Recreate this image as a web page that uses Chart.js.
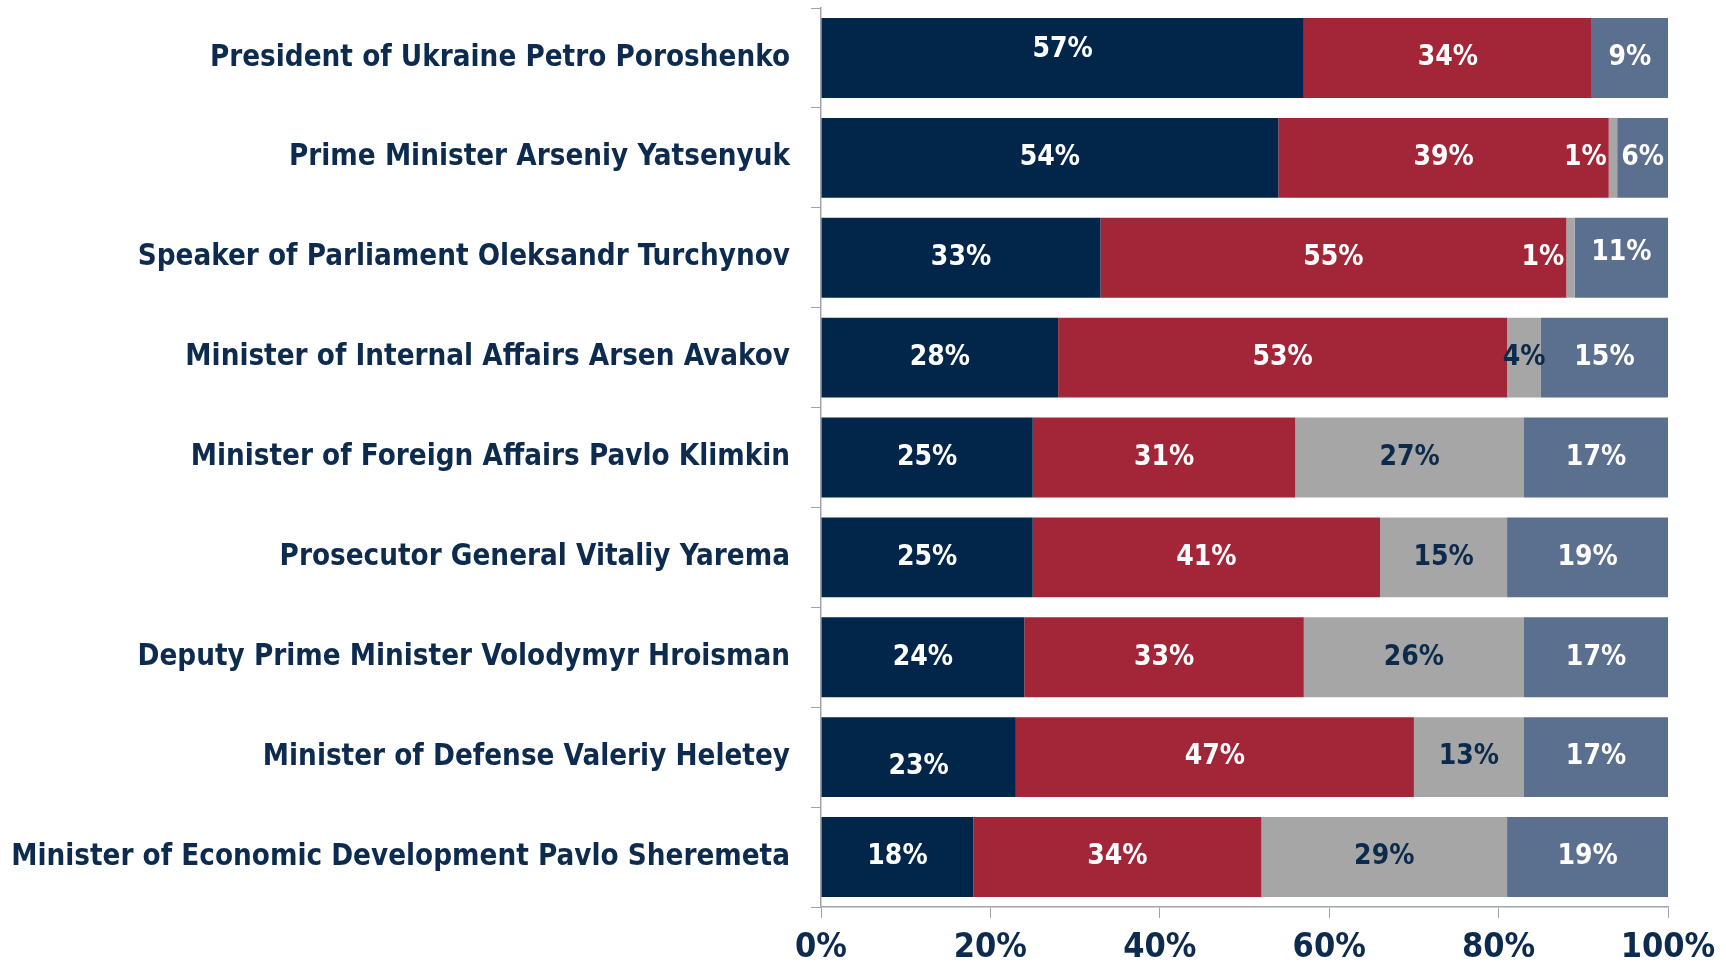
<!DOCTYPE html>
<html>
<head>
<meta charset="utf-8">
<script src="https://cdn.jsdelivr.net/npm/chart.js@4.4.1/dist/chart.umd.min.js"></script>
<style>
  html, body { margin: 0; padding: 0; background: #ffffff; }
  #wrap { width: 1726px; height: 962px; }
</style>
</head>
<body>
<div id="wrap"><canvas id="c" width="1726" height="962"></canvas></div>
<script>
const categories = [
  "President of Ukraine Petro Poroshenko",
  "Prime Minister Arseniy Yatsenyuk",
  "Speaker of Parliament Oleksandr Turchynov",
  "Minister of Internal Affairs Arsen Avakov",
  "Minister of Foreign Affairs Pavlo Klimkin",
  "Prosecutor General Vitaliy Yarema",
  "Deputy Prime Minister Volodymyr Hroisman",
  "Minister of Defense Valeriy Heletey",
  "Minister of Economic Development Pavlo Sheremeta"
];
const seriesNames = ["Series 1", "Series 2", "Series 3", "Series 4"];
const series1 = [57, 54, 33, 28, 25, 25, 24, 23, 18];
const series2 = [34, 39, 55, 53, 31, 41, 33, 47, 34];
const series3 = [0, 1, 1, 4, 27, 15, 26, 13, 29];
const series4 = [9, 6, 11, 15, 17, 19, 17, 17, 19];
const tickValues = [0, 20, 40, 60, 80, 100];

const colors = ["#02264a", "#a32638", "#a6a6a6", "#5b6f8e"];
const labelColors = ["#ffffff", "#ffffff", "#0b2a4c", "#ffffff"];
const navy = "#0d2b4e";

const valueLabels = {
  id: "valueLabels",
  afterDatasetsDraw(chart, args, opts) {
    const ctx = chart.ctx;
    ctx.save();
    ctx.font = opts.font;
    ctx.textBaseline = "middle";
    chart.data.datasets.forEach((ds, di) => {
      const meta = chart.getDatasetMeta(di);
      meta.data.forEach((bar, i) => {
        const v = ds.data[i];
        if (!v) return;
        const left = Math.min(bar.base, bar.x);
        const right = Math.max(bar.base, bar.x);
        const key = di + "," + i;
        const dy = (opts.dy && opts.dy[key]) || 0;
        const txt = v + "%";
        if (v <= 1) {
          ctx.fillStyle = "#ffffff";
          ctx.textAlign = "right";
          ctx.fillText(txt, left - 2, bar.y + dy);
        } else {
          ctx.fillStyle = labelColors[di];
          ctx.textAlign = "center";
          ctx.fillText(txt, (left + right) / 2, bar.y + dy);
        }
      });
    });
    ctx.restore();
  }
};

const seriesData = [series1, series2, series3, series4];

new Chart(document.getElementById("c"), {
  type: "bar",
  data: {
    labels: categories,
    datasets: seriesData.map((d, k) => ({
      label: seriesNames[k],
      data: d,
      backgroundColor: colors[k],
      borderWidth: 0,
      barPercentage: 0.8,
      categoryPercentage: 1.0
    }))
  },
  options: {
    indexAxis: "y",
    responsive: false,
    animation: false,
    devicePixelRatio: 1,
    layout: { padding: { left: 0, right: 58, top: 8, bottom: 0 } },
    plugins: {
      legend: { display: false },
      tooltip: { enabled: false },
      valueLabels: {
        font: "bold 28px 'DejaVu Sans Condensed', 'DejaVu Sans', sans-serif",
        dy: { "0,0": -8, "3,2": -5, "0,7": 10 }
      }
    },
    scales: {
      x: {
        type: "linear",
        stacked: true,
        min: 0,
        max: 100,
        afterBuildTicks(scale) { scale.ticks = tickValues.map(v => ({ value: v })); },
        afterFit(scale) { scale.height = 55; scale.paddingLeft = 0; scale.paddingRight = 0; },
        grid: {
          drawOnChartArea: false,
          drawTicks: true,
          tickLength: 11,
          color: "#a0a4ab"
        },
        border: { display: true, color: "#a0a4ab", width: 1.5 },
        ticks: {
          padding: 10,
          color: navy,
          font: { family: "'Liberation Sans Narrow', 'DejaVu Sans Condensed', sans-serif", size: 34, weight: "bold" },
          callback: v => v + "%",
          maxRotation: 0
        }
      },
      y: {
        stacked: true,
        afterFit(scale) { scale.width = 821; scale.paddingTop = 0; scale.paddingBottom = 0; },
        grid: {
          drawOnChartArea: false,
          drawTicks: true,
          tickLength: 10,
          offset: true,
          color: "#a0a4ab"
        },
        border: { display: true, color: "#a0a4ab", width: 1.5 },
        ticks: {
          padding: 21,
          color: navy,
          font: { family: "'DejaVu Sans Condensed', 'DejaVu Sans', sans-serif", size: 29.3, weight: "bold" }
        }
      }
    }
  },
  plugins: [valueLabels]
});
</script>
</body>
</html>
